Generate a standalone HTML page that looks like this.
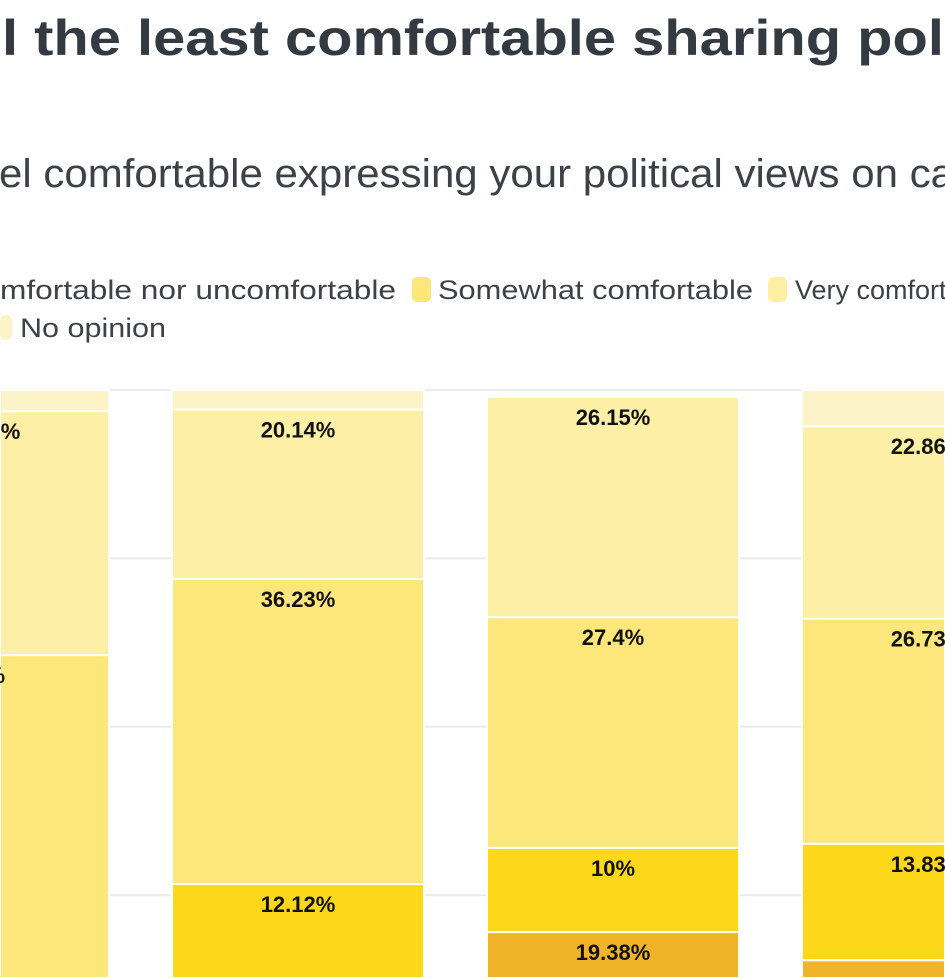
<!DOCTYPE html>
<html><head><meta charset="utf-8"><style>
html,body{margin:0;padding:0;background:#fff;width:945px;height:978px;overflow:hidden}
svg{display:block;font-family:"Liberation Sans",sans-serif;overflow:hidden}
</style></head><body>
<svg id="chart" width="945" height="978" viewBox="0 0 945 978">
<text x="2" y="55" font-size="50" font-weight="bold" fill="#343a42" textLength="958" lengthAdjust="spacingAndGlyphs">l the least comfortable sharing poli</text>
<text x="-1" y="187" font-size="40" fill="#3d4148" textLength="955" lengthAdjust="spacingAndGlyphs">el comfortable expressing your political views on ca</text>
<g>
<text x="0" y="299" font-size="27" fill="#3d4148" textLength="396" lengthAdjust="spacingAndGlyphs">mfortable nor uncomfortable</text>
<rect x="412" y="277" width="19" height="25" rx="5" fill="#fde77a"/>
<text x="438" y="299" font-size="27" fill="#3d4148" textLength="315" lengthAdjust="spacingAndGlyphs">Somewhat comfortable</text>
<rect x="768" y="277" width="19" height="25" rx="5" fill="#fdf0a6"/>
<text x="795" y="299" font-size="27" fill="#3d4148">Very comfortable</text>
<rect x="0" y="315" width="12" height="25" rx="5" fill="#fdf3c8"/>
<text x="20" y="337" font-size="27" fill="#3d4148" textLength="146" lengthAdjust="spacingAndGlyphs">No opinion</text>
</g>
<g id="grid"></g>
<g id="bars"></g>
</svg>
<script>
const categories = ["Group 1","Group 2","Group 3","Group 4"];
const veryUncomfortable = [6.52, 12.2, 16.24, 11.95];
const somewhatUncomfortable = [10.0, 17.0, 19.38, 20.33];
const neither = [12.0, 12.12, 10, 13.83];
const somewhatComfortable = [40.0, 36.23, 27.4, 26.73];
const veryComfortable = [28.98, 20.14, 26.15, 22.86];
const noOpinion = [2.5, 2.3, 0, 4.3];
const gridTicks = [40, 60, 80, 100];

const svgNS = "http://www.w3.org/2000/svg";
const H = 978;
const y0 = 1232, pxPerPct = 8.42;
function yScale(v){ return y0 - v * pxPerPct; }
function xScale(i){ return -143 + i * 315; }
const barW = 252;
const series = [
  {name:"very-uncomfortable", vals:veryUncomfortable, color:"#e8a21c"},
  {name:"somewhat-uncomfortable", vals:somewhatUncomfortable, color:"#f0b429"},
  {name:"neither", vals:neither, color:"#fdd81a"},
  {name:"somewhat-comfortable", vals:somewhatComfortable, color:"#fde77a"},
  {name:"very-comfortable", vals:veryComfortable, color:"#fdf0a6"},
  {name:"no-opinion", vals:noOpinion, color:"#fdf3c8"}
];
const grid = document.getElementById('grid');
gridTicks.forEach(t => {
  const l = document.createElementNS(svgNS,'line');
  l.setAttribute('x1',0); l.setAttribute('x2',945);
  l.setAttribute('y1',yScale(t)); l.setAttribute('y2',yScale(t));
  l.setAttribute('stroke','#ebebeb'); l.setAttribute('stroke-width','2');
  
  
  grid.appendChild(l);
});
const bars = document.getElementById('bars');
categories.forEach((c, i) => {
  let cum = 0;
  series.forEach(s => {
    const v = s.vals[i];
    if (v <= 0) return;
    const top = yScale(cum + v), bot = Math.min(yScale(cum), H);
    cum += v;
    if (top >= H) return;
    const left = Math.max(xScale(i), 0), right = Math.min(xScale(i) + barW, 945);
    const r = document.createElementNS(svgNS,'rect');
    r.setAttribute('x', left); r.setAttribute('width', right - left);
    r.setAttribute('y', top); r.setAttribute('height', bot - top);
    r.setAttribute('fill', s.color); r.setAttribute('stroke','#fff'); r.setAttribute('stroke-width','2');
    
    
    bars.appendChild(r);
    if (s.name !== 'no-opinion' && top + 28 < H + 5) {
      const t = document.createElementNS(svgNS,'text');
      t.setAttribute('x', xScale(i) + barW/2);
      t.setAttribute('y', top + 28);
      t.setAttribute('text-anchor','middle');
      t.setAttribute('font-size','22'); t.setAttribute('font-weight','bold'); t.setAttribute('fill','#111');
      t.textContent = (Math.round(v*100)/100) + '%';
      
      
      bars.appendChild(t);
    }
  });
});
</script>
</body></html>
